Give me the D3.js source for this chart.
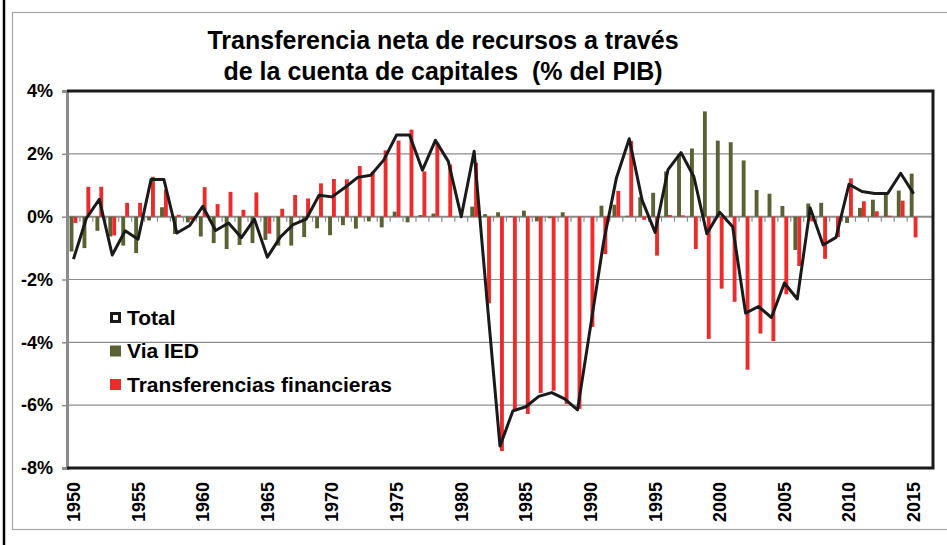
<!DOCTYPE html>
<html>
<head>
<meta charset="utf-8">
<script src="https://cdn.jsdelivr.net/npm/d3@7"></script>
<style>
  body { margin: 0; background: #fff; }
  svg { display: block; font-family: "Liberation Sans", Arial, sans-serif; }
</style>
</head>
<body>
<svg id="chart"></svg>
<script>
// years on the category axis
const years = [1950, 1951, 1952, 1953, 1954, 1955, 1956, 1957, 1958, 1959,
  1960, 1961, 1962, 1963, 1964, 1965, 1966, 1967, 1968, 1969,
  1970, 1971, 1972, 1973, 1974, 1975, 1976, 1977, 1978, 1979,
  1980, 1981, 1982, 1983, 1984, 1985, 1986, 1987, 1988, 1989,
  1990, 1991, 1992, 1993, 1994, 1995, 1996, 1997, 1998, 1999,
  2000, 2001, 2002, 2003, 2004, 2005, 2006, 2007, 2008, 2009,
  2010, 2011, 2012, 2013, 2014, 2015];

// % del PIB
const total = [-1.35, -0.05, 0.55, -1.22, -0.45, -0.72, 1.18, 1.18, -0.52, -0.28,
  0.33, -0.44, -0.2, -0.67, -0.08, -1.29, -0.65, -0.25, -0.08, 0.68,
  0.63, 0.93, 1.25, 1.32, 1.8, 2.6, 2.6, 1.48, 2.43, 1.76,
  0.0, 2.08, -2.68, -7.3, -6.18, -6.05, -5.72, -5.6, -5.8, -6.15,
  -3.5, -0.84, 1.22, 2.48, 0.52, -0.5, 1.5, 2.04, 1.27, -0.54,
  0.14, -0.32, -3.07, -2.86, -3.21, -2.11, -2.62, 0.28, -0.9, -0.66,
  1.03, 0.8, 0.74, 0.74, 1.38, 0.73];

const viaIED = [-1.11, -1.0, -0.45, -0.63, -0.92, -1.16, -0.12, 0.3, -0.55, -0.18,
  -0.63, -0.84, -1.03, -0.9, -0.84, -0.74, -0.92, -0.92, -0.65, -0.37,
  -0.59, -0.27, -0.38, -0.15, -0.34, 0.16, -0.18, 0.05, 0.1, 0.0,
  0.0, 0.32, 0.08, 0.14, 0.02, 0.19, -0.15, -0.05, 0.14, 0.0,
  0.0, 0.35, 0.38, 0.03, 0.62, 0.76, 1.44, 1.98, 2.17, 3.35,
  2.42, 2.37, 1.79, 0.85, 0.73, 0.34, -1.06, 0.42, 0.44, 0.0,
  -0.2, 0.28, 0.54, 0.7, 0.83, 1.37];

const financieras = [-0.2, 0.95, 0.95, -0.6, 0.44, 0.44, 1.27, 0.86, 0.06, -0.1,
  0.94, 0.4, 0.79, 0.22, 0.77, -0.54, 0.25, 0.69, 0.58, 1.06,
  1.2, 1.19, 1.61, 1.43, 2.11, 2.42, 2.77, 1.44, 2.35, 1.66,
  0.0, 1.72, -2.76, -7.46, -6.2, -6.28, -5.61, -5.54, -5.96, -6.12,
  -3.51, -1.19, 0.82, 2.41, -0.1, -1.24, 0.05, 0.04, -1.03, -3.89,
  -2.29, -2.71, -4.87, -3.72, -3.96, -2.47, -1.57, -0.15, -1.34, -0.65,
  1.22, 0.49, 0.17, 0.03, 0.51, -0.66];

const yTicks = [4, 2, 0, -2, -4, -6, -8];
const xLabelYears = [1950, 1955, 1960, 1965, 1970, 1975, 1980, 1985, 1990, 1995, 2000, 2005, 2010, 2015];
const titleLines = ["Transferencia neta de recursos a través", "de la cuenta de capitales  (% del PIB)"];
const legendItems = ["Total", "Via IED", "Transferencias financieras"];

var svgWidth = 947, svgHeight = 545;
var plot = {left: 67, right: 933, top: 91, bottom: 468};
var olive = "#5a6234", red = "#ef2a2a";

var svg = d3.select("#chart")
  .attr("width", svgWidth)
  .attr("height", svgHeight);

// outer frame
svg.append("rect")
  .attr("x", 12.5).attr("y", 12.5)
  .attr("width", 940).attr("height", 517)
  .attr("fill", "none")
  .attr("stroke", "#a6a6a6")
  .attr("stroke-width", 1.2);
svg.append("line")
  .attr("x1", 4).attr("x2", 4)
  .attr("y1", 0).attr("y2", svgHeight)
  .attr("stroke", "#000").attr("stroke-width", 2.5);

// one empty slot after the last year, like the original
var step = (plot.right - plot.left) / (years.length + 1);
var x = d3.scaleBand()
  .domain(years)
  .range([plot.left, plot.left + step * years.length])
  .paddingInner(0.4)
  .paddingOuter(0.2);
var xSeries = d3.scaleBand()
  .domain(["ied", "fin"])
  .range([0, x.bandwidth()]);
var y = d3.scaleLinear().domain([-8, 4]).range([plot.bottom, plot.top]);
var cx = function (yr) { return x(yr) + x.bandwidth() / 2; };

// title
svg.append("g")
  .selectAll("text")
  .data(titleLines)
  .join("text")
  .attr("x", 443)
  .attr("y", function (d, i) { return 49 + i * 31; })
  .attr("text-anchor", "middle")
  .attr("font-size", 25)
  .attr("font-weight", "bold")
  .style("white-space", "pre")
  .text(function (d) { return d; });

// gridlines
svg.append("g")
  .selectAll("line")
  .data(yTicks.filter(function (d) { return d !== 4 && d !== -8; }))
  .join("line")
  .attr("x1", plot.left).attr("x2", plot.right)
  .attr("y1", function (d) { return y(d); })
  .attr("y2", function (d) { return y(d); })
  .attr("stroke", "#8c8c8c")
  .attr("stroke-width", function (d) { return d === 0 ? 2 : 1.2; });

// y axis
var yAxis = svg.append("g")
  .attr("transform", "translate(" + plot.left + ",0)")
  .call(d3.axisLeft(y).tickValues(yTicks).tickSize(5).tickFormat(function (d) { return d + "%"; }));
yAxis.select(".domain").attr("stroke", "#8c8c8c").attr("stroke-width", 3);
yAxis.selectAll(".tick line").attr("stroke", "#8c8c8c").attr("stroke-width", 1.5);
yAxis.selectAll(".tick text")
  .attr("font-size", 18)
  .attr("font-weight", "bold")
  .attr("font-family", "Liberation Sans, Arial, sans-serif")
  .attr("fill", "#000")
  .attr("x", -14);

// small category ticks under the zero line
var xAxis = svg.append("g")
  .attr("transform", "translate(0," + y(0) + ")")
  .call(d3.axisBottom(x).tickSize(5).tickFormat(""));
xAxis.select(".domain").remove();
xAxis.selectAll(".tick line")
  .attr("stroke", "#8c8c8c")
  .attr("stroke-width", 1.2)
  .attr("transform", "translate(" + (-step / 2) + ",0)");

// bars
var bars = svg.append("g");
bars.selectAll("rect.ied")
  .data(years)
  .join("rect")
  .attr("class", "ied")
  .attr("x", function (d) { return x(d) + xSeries("ied"); })
  .attr("width", xSeries.bandwidth())
  .attr("y", function (d, i) { return y(Math.max(0, viaIED[i])); })
  .attr("height", function (d, i) { return Math.abs(y(viaIED[i]) - y(0)); })
  .attr("fill", olive);
bars.selectAll("rect.fin")
  .data(years)
  .join("rect")
  .attr("class", "fin")
  .attr("x", function (d) { return x(d) + xSeries("fin"); })
  .attr("width", xSeries.bandwidth())
  .attr("y", function (d, i) { return y(Math.max(0, financieras[i])); })
  .attr("height", function (d, i) { return Math.abs(y(financieras[i]) - y(0)); })
  .attr("fill", red);

// total line
var line = d3.line()
  .x(function (d, i) { return cx(years[i]); })
  .y(function (d) { return y(d); });
svg.append("path")
  .datum(total)
  .attr("fill", "none")
  .attr("stroke", "#1a1a1a")
  .attr("stroke-width", 3)
  .attr("stroke-linejoin", "round")
  .attr("d", line);

// plot border (top, right, bottom)
svg.append("path")
  .attr("d", "M" + plot.left + "," + plot.top + "H" + plot.right + "V" + plot.bottom + "H" + plot.left)
  .attr("fill", "none")
  .attr("stroke", "#1a1a1a")
  .attr("stroke-width", 3);

// x labels
svg.append("g")
  .selectAll("text")
  .data(xLabelYears)
  .join("text")
  .attr("transform", function (d) { return "translate(" + (cx(d) + 6.5) + ",482) rotate(-90)"; })
  .attr("text-anchor", "end")
  .attr("font-size", 18)
  .attr("font-weight", "bold")
  .text(function (d) { return d; });

// legend
var legend = svg.append("g").attr("transform", "translate(110,317)");
var legendRow = legend.selectAll("g")
  .data(legendItems)
  .join("g")
  .attr("transform", function (d, i) { return "translate(0," + (i * 33.5) + ")"; });
legendRow.append("rect")
  .attr("x", function (d, i) { return i === 0 ? 1.5 : 0; })
  .attr("y", function (d, i) { return i === 0 ? -3.5 : -5; })
  .attr("width", function (d, i) { return i === 0 ? 8 : 11; })
  .attr("height", function (d, i) { return i === 0 ? 8 : 11; })
  .attr("fill", function (d, i) { return i === 0 ? "#fff" : (i === 1 ? olive : red); })
  .attr("stroke", function (d, i) { return i === 0 ? "#1a1a1a" : "none"; })
  .attr("stroke-width", 3);
legendRow.append("text")
  .attr("x", 17)
  .attr("y", 7.5)
  .attr("font-size", 21)
  .attr("font-weight", "bold")
  .text(function (d) { return d; });
</script>
</body>
</html>
